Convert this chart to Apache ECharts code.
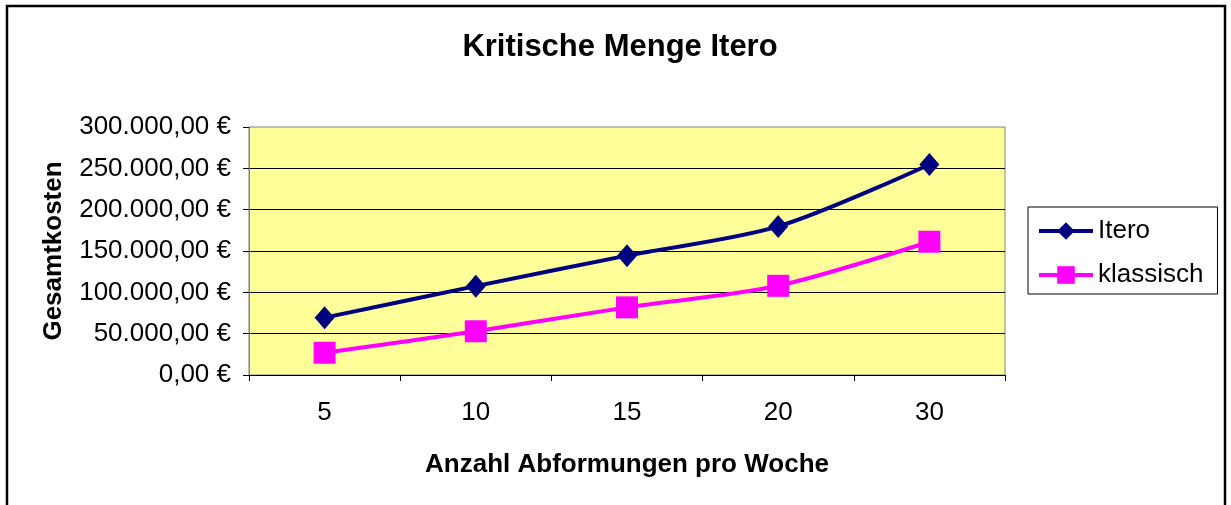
<!DOCTYPE html>
<html>
<head>
<meta charset="utf-8">
<script src="https://cdn.jsdelivr.net/npm/echarts@6/dist/echarts.min.js"></script>
<style>
  html, body { margin: 0; padding: 0; background: #fff; }
  #chart { width: 1231px; height: 505px; }
</style>
</head>
<body>
<div id="chart"></div>
<script>
// chart data
var categories = ['5', '10', '15', '20', '30'];
var itero = [69400, 107500, 144400, 179700, 254700];
var klassisch = [26900, 52900, 81800, 107900, 161200];
var yTicks = [0, 50000, 100000, 150000, 200000, 250000, 300000];

var FONT = '"Liberation Sans", Arial, sans-serif';

function euro(v) {
  var s = String(Math.round(v)).replace(/\B(?=(\d{3})+(?!\d))/g, '.');
  return s + ',00 €';
}

var chart = echarts.init(document.getElementById('chart'));
var option = {
  animation: false,
  backgroundColor: '#fff',
  textStyle: { fontFamily: FONT, color: '#000' },
  title: {
    text: 'Kritische Menge Itero',
    left: 615,
    textAlign: 'center',
    top: 27,
    textStyle: { fontFamily: FONT, fontSize: 31, fontWeight: 'bold', color: '#000' }
  },
  legend: {
    left: 1028,
    top: 207,
    orient: 'vertical',
    backgroundColor: '#fff',
    borderColor: '#000',
    borderWidth: 1,
    borderRadius: 0,
    padding: [11, 14, 6, 9],
    itemWidth: 54,
    itemHeight: 22,
    itemGap: 18,
    lineStyle: { width: 4 },
    textStyle: { fontFamily: FONT, fontSize: 26, color: '#000' },
    data: ['Itero', 'klassisch']
  },
  grid: {
    left: 249,
    right: 226,
    top: 127,
    bottom: 130,
    show: true,
    backgroundColor: '#FFFF99',
    borderColor: '#808080',
    borderWidth: 1
  },
  xAxis: {
    type: 'category',
    data: categories,
    boundaryGap: true,
    name: 'Anzahl Abformungen pro Woche',
    nameLocation: 'middle',
    nameGap: 77,
    nameTextStyle: { fontFamily: FONT, fontSize: 26, fontWeight: 'bold', color: '#000' },
    axisLine: { lineStyle: { color: '#000', width: 1 } },
    axisTick: { show: true, length: 6, lineStyle: { color: '#000' } },
    axisLabel: { fontFamily: FONT, fontSize: 26, color: '#000', margin: 25 }
  },
  yAxis: {
    type: 'value',
    min: yTicks[0],
    max: yTicks[yTicks.length - 1],
    interval: yTicks[1] - yTicks[0],
    name: 'Gesamtkosten',
    nameLocation: 'middle',
    nameGap: 182,
    nameRotate: 90,
    nameTextStyle: { fontFamily: FONT, fontSize: 26, fontWeight: 'bold', color: '#000' },
    axisLine: { show: true, lineStyle: { color: '#808080', width: 1 } },
    axisTick: { show: true, length: 6, lineStyle: { color: '#000' } },
    axisLabel: { fontFamily: FONT, fontSize: 26, color: '#000', margin: 18, formatter: euro },
    splitLine: { show: true, showMinLine: false, showMaxLine: false, lineStyle: { color: '#000', width: 1 } }
  },
  graphic: [
    {
      type: 'rect',
      silent: true,
      shape: { x: 7, y: 6, width: 1218, height: 520 },
      style: { fill: 'none', stroke: '#000', lineWidth: 2.5 }
    }
  ],
  series: [
    {
      name: 'Itero',
      type: 'line',
      data: itero,
      smooth: 0.3,
      symbol: 'diamond',
      symbolSize: [20, 23],
      lineStyle: { color: '#000080', width: 4 },
      itemStyle: { color: '#000080' },
      z: 3
    },
    {
      name: 'klassisch',
      type: 'line',
      data: klassisch,
      smooth: 0.3,
      symbol: 'rect',
      symbolSize: 22,
      lineStyle: { color: '#FF00FF', width: 4 },
      itemStyle: { color: '#FF00FF' },
      z: 2
    }
  ]
};
chart.setOption(option);
</script>
</body>
</html>
